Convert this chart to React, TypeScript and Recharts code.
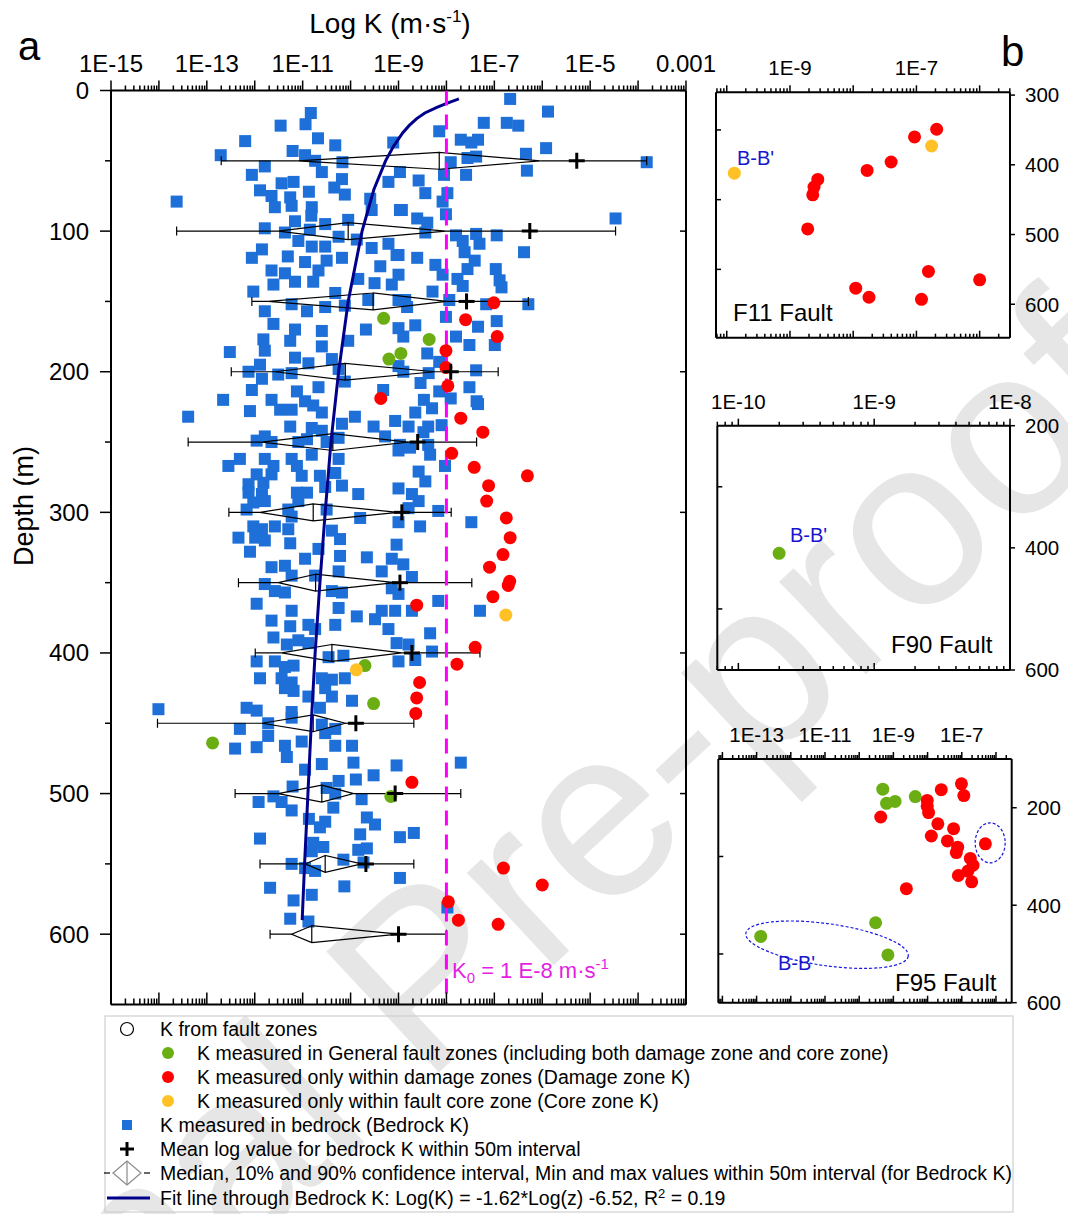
import React from 'react';
import { ScatterChart, Scatter, XAxis, YAxis } from 'recharts';

const FONT = 'Arial, "Liberation Sans", Helvetica, sans-serif';

// ---------------- DATA ----------------
// Bedrock K: [depth (m), log10 K (m/s)]
const bedrockK: [number, number][] = [
  [16,-10.83],[24,-10.94],[25,-11.46],[36,-12.20],[39,-10.32],[37,-9.11],[34,-10.68],[43,-11.21],[46,-12.71],[46,-10.95],
  [50,-10.74],[51,-10.17],[54,-11.79],[60,-12.06],[58,-10.60],[66,-11.44],[65,-11.19],[63,-10.18],[65,-9.21],[71,-11.89],
  [69,-10.34],[79,-13.63],[75,-11.65],[76,-11.26],[72,-10.87],[74,-10.12],[77,-9.59],[83,-11.58],[82,-11.23],[83,-10.81],
  [85,-8.97],[85,-9.56],[89,-10.82],[93,-11.16],[98,-11.79],[95,-10.53],[92,-10.05],[101,-11.37],[99,-10.85],[104,-10.25],
  [106,-9.87],[113,-11.85],[107,-11.09],[111,-10.81],[111,-10.53],[112,-9.56],[109,-9.21],[119,-12.06],[118,-11.31],[122,-10.95],
  [121,-10.50],[119,-10.18],[125,-9.38],[117,-9.00],[128,-11.65],[130,-11.37],[128,-10.67],[134,-9.84],[131,-9.00],[143,-12.03],
  [138,-11.61],[136,-11.16],[136,-10.78],[144,-10.32],[137,-9.50],[138,-9.14],[157,-11.79],[152,-11.23],[157,-10.91],[154,-10.53],
  [153,-10.12],[149,-9.63],[149,-9.00],[166,-11.61],[170,-11.16],[171,-10.60],[170,-9.68],[169,-9.00],[177,-11.82],[178,-11.26],
  [178,-10.05],[186,-12.52],[185,-11.79],[182,-10.60],[190,-11.16],[194,-10.88],[191,-10.39],[195,-11.89],[200,-12.13],[202,-11.51],
  [201,-11.23],[198,-10.25],[196,-9.00],[205,-11.85],[207,-10.12],[213,-12.06],[220,-12.66],[220,-11.65],[214,-11.12],[211,-10.67],
  [213,-9.32],
  [6,-6.67],[15,-5.88],[23,-7.22],[23,-6.74],[25,-6.50],[29,-8.15],[35,-7.70],[35,-7.34],[37,-7.48],[41,-5.92],
  [45,-6.34],[47,-7.38],[48,-7.56],[51,-7.91],[51,-3.82],[57,-6.32],[60,-7.59],[60,-8.05],[58,-8.97],[64,-8.58],
  [73,-8.44],[73,-7.98],[79,-8.08],[85,-8.93],[88,-8.01],[91,-4.47],[91,-8.61],[94,-8.40],[101,-8.44],[103,-7.80],
  [102,-7.38],[103,-6.95],[107,-7.66],[109,-7.31],[115,-6.38],[115,-7.62],[117,-9.04],[119,-8.61],[124,-8.23],[121,-7.41],
  [127,-7.56],[127,-6.97],[131,-8.08],[134,-7.77],[135,-6.89],[139,-7.66],[140,-6.85],[143,-8.29],[149,-8.86],[149,-7.94],
  [152,-7.17],[152,-6.29],[154,-8.82],[161,-8.01],[168,-7.34],[164,-6.95],[167,-8.65],[175,-8.90],[175,-7.80],[181,-7.52],
  [181,-6.99],[187,-8.40],[193,-8.15],[200,-8.90],[201,-8.37],[199,-7.38],[208,-8.54],[211,-7.52],[214,-8.15],[219,-7.91],
  [220,-8.47],[223,-7.34],
  [221,-7.37],[229,-8.65],[226,-8.30],[239,-8.79],[239,-8.38],[238,-8.10],[243,-8.48],[252,-8.97],[254,-8.76],[252,-8.38],
  [259,-8.34],[267,-8.03],[271,-8.58],[278,-8.44],[283,-9.00],[287,-8.72],[292,-8.58],[297,-8.79],[299,-8.17],[307,-9.00],
  [310,-8.55],[307,-7.48],[323,-9.04],[337,-8.90],[346,-8.72],[358,-9.00],[363,-8.17],[370,-8.72],[370,-7.30],[386,-8.34],
  [394,-8.79],[399,-8.30],[405,-8.65],
  [232,-13.39],[228,-12.10],[227,-11.47],[227,-11.23],[221,-10.95],[224,-10.78],[229,-10.60],[239,-11.26],[240,-10.81],[242,-10.60],
  [237,-10.18],[232,-9.91],[239,-9.52],[246,-9.28],[235,-9.07],[249,-11.96],[246,-11.79],[250,-11.65],[250,-11.09],[248,-10.91],
  [250,-10.50],[247,-10.25],[256,-9.00],[262,-12.31],[267,-12.55],[262,-11.79],[267,-11.61],[262,-11.23],[267,-11.12],[259,-10.81],
  [262,-10.25],[273,-11.96],[273,-11.65],[274,-11.02],[274,-10.64],[272,-10.32],[280,-12.13],[279,-11.82],[282,-10.53],[281,-10.18],
  [287,-9.84],[286,-12.13],[287,-11.85],[286,-11.12],[286,-10.91],[293,-12.03],[292,-11.79],[292,-11.09],[298,-12.17],[298,-11.30],
  [303,-11.23],[298,-10.50],[304,-9.80],[310,-12.03],[312,-11.85],[310,-11.58],[312,-11.30],[318,-12.34],[318,-11.99],[320,-11.79],
  [322,-11.26],[313,-10.39],[319,-10.22],[328,-12.10],[326,-10.67],[333,-10.95],[331,-10.22],[332,-9.66],[339,-11.65],[338,-11.37],
  [345,-11.23],[345,-10.74],[342,-10.25],[342,-9.35],[333,-9.14],[351,-11.79],[356,-11.58],[357,-11.37],[356,-10.39],[357,-10.18],
  [354,-9.14],[365,-11.96],[370,-11.23],[368,-10.25],[377,-11.65],[381,-11.26],[380,-10.88],[383,-10.74],[380,-10.32],[374,-9.87],
  [376,-9.49],[370,-9.35],[370,-9.07],[383,-9.21],[389,-11.61],[394,-11.33],[391,-11.09],[393,-10.88],[393,-9.04],[406,-11.96],
  [406,-11.58],[410,-11.37],[409,-11.19],[403,-10.46],[402,-10.15],[406,-9.00],[418,-11.89],[418,-11.44],[421,-11.23],[418,-10.60],
  [419,-10.39],[418,-10.12],[425,-11.37],[427,-11.19],[431,-10.88],[425,-10.53],[431,-10.39],[434,-9.97],[440,-14.01],[439,-12.17],
  [441,-11.96],[442,-11.23],[439,-10.64],
  [450,-11.72],[459,-11.72],[446,-11.23],[451,-10.60],[457,-10.53],[454,-10.32],[454,-12.31],[468,-12.41],[467,-11.96],[466,-11.37],
  [474,-11.33],[463,-11.02],[466,-10.32],[466,-9.97],[479,-10.60],[483,-10.95],[478,-9.94],[480,-9.04],[487,-9.52],[490,-9.89],
  [491,-10.25],[496,-10.50],[500,-10.32],[495,-11.21],[502,-11.61],[506,-11.44],[506,-11.92],[504,-9.77],[512,-11.23],[510,-10.36],
  [518,-10.87],[520,-10.53],[524,-10.64],[517,-9.66],[522,-9.49],[532,-11.89],[529,-9.80],[531,-8.97],[528,-8.68],[535,-10.78],
  [538,-10.57],[541,-10.81],[540,-9.84],[539,-9.66],[550,-11.23],[553,-10.95],[555,-10.74],[547,-10.15],[549,-9.73],[560,-8.97],
  [567,-11.68],[566,-10.13],[572,-10.81],[576,-11.19],[589,-11.26],[591,-10.88],[478,-7.70],[581,-7.98],
];

// Fit line through bedrock K: [depth, log10 K]
const fitLineK: [number, number][] = [
  [6,-7.74],[9,-7.98],[12,-8.2],[16,-8.45],[20,-8.62],[25,-8.78],[30,-8.91],[40,-9.11],[50,-9.27],[70,-9.51],
  [100,-9.76],[150,-10.05],[200,-10.25],[250,-10.41],[300,-10.53],[350,-10.64],[400,-10.74],[450,-10.82],[500,-10.89],[550,-10.96],[590,-11.01],
];

// 50 m interval statistics for bedrock log K
const intervalDepth = [50, 100, 150, 200, 250, 300, 350, 400, 450, 500, 550, 600];
const intervalMin = [-12.70, -13.63, -12.06, -12.49, -13.39, -12.54, -12.34, -11.99, -14.03, -12.41, -11.89, -11.68];
const intervalP10 = [-11.10, -11.51, -11.72, -11.58, -11.85, -11.89, -11.51, -11.44, -11.85, -11.51, -10.95, -11.23];
const intervalMedian = [-8.15, -10.05, -9.53, -10.11, -10.37, -10.78, -10.73, -10.39, -10.78, -10.60, -10.53, -10.81];
const intervalP90 = [-6.04, -8.01, -8.00, -8.24, -8.80, -9.01, -9.07, -8.93, -10.11, -9.94, -9.77, -9.00];
const intervalMax = [-3.82, -4.47, -6.29, -6.92, -7.37, -7.90, -7.47, -7.30, -8.68, -7.70, -8.68, -8.00];
const intervalMean = [-5.28, -6.26, -7.58, -7.91, -8.60, -8.93, -8.97, -8.72, -9.89, -9.07, -9.68, -9.00];

// Fault zone K: [depth, log10 K]
const f11DamageK: [number, number][] = [
  [349,-6.68],[360,-7.03],[396,-7.40],[408,-7.78],[421,-8.56],[432,-8.62],[443,-8.64],[492,-8.72],[553,-6.81],[565,-6.00],[577,-7.96],[590,-7.75],[593,-6.92],
];
const f11CoreK: [number, number][] = [[373,-6.76],[412,-9.88]];
const f90GeneralK: [number, number][] = [[409,-9.70]];
const f95GeneralK: [number, number][] = [[162,-9.31],[177,-8.36],[187,-8.95],[191,-9.20],[436,-9.52],[464,-12.88],[502,-9.16]];
const f95DamageK: [number, number][] = [
  [151,-7.01],[163,-7.60],[175,-6.94],[185,-8.01],[197,-8.01],[210,-7.97],[219,-9.37],[233,-7.70],[243,-7.24],[258,-7.89],
  [268,-7.42],[274,-6.31],[281,-7.12],[292,-7.16],[304,-6.75],[318,-6.67],[330,-6.82],[339,-7.10],[352,-6.71],[366,-8.62],
];
// F95 encircled groups: centre [depth, log10 K]
const f95CircledSingle: [number, number][] = [[272,-6.17]];
const f95CircledBB: [number, number][] = [[481,-10.94]];

const k0Log = -8;

// axis settings
const mainXDomain: [number, number] = [-15, -3];
const mainXLabels = [-15, -13, -11, -9, -7, -5, -3];
const mainDepthDomain: [number, number] = [0, 650];
const mainDepthLabels = [0, 100, 200, 300, 400, 500, 600];
const mainDepthTicks = [0, 50, 100, 150, 200, 250, 300, 350, 400, 450, 500, 550, 600];

// ---------------- STYLE ----------------
const BLUE = '#1E70D8';
const RED = '#FF0000';
const GREEN = '#6BAE14';
const YELLOW = '#FFC125';
const NAVY = '#00008B';
const MAGENTA = '#FF00FF';

const toPts = (arr: [number, number][]) => arr.map(([d, k]) => ({ x: k, y: d }));

const logTicks = (lo: number, hi: number) => {
  const out: number[] = [];
  for (let e = Math.floor(lo); e <= Math.ceil(hi); e++) {
    for (let k = 1; k <= 9; k++) {
      const v = e + Math.log10(k);
      if (v >= lo - 1e-9 && v <= hi + 1e-9) out.push(v);
    }
  }
  return out;
};
const isMajor = (v: number) => Math.abs(v - Math.round(v)) < 1e-6;
const fmtLog = (v: number) => (Math.round(v) === -3 ? '0.001' : `1E${Math.round(v)}`);

const noShape = () => <g />;
const squareShape = (p: any) => <rect x={p.cx - 6} y={p.cy - 6} width={12} height={12} fill={BLUE} />;
const dotShape = (color: string, r: number) => (p: any) => <circle cx={p.cx} cy={p.cy} r={r} fill={color} />;
const crossShape = (p: any) => (
  <g stroke="#000" strokeWidth={3}>
    <line x1={p.cx - 8} x2={p.cx + 8} y1={p.cy} y2={p.cy} />
    <line x1={p.cx} x2={p.cx} y1={p.cy - 8} y2={p.cy + 8} />
  </g>
);
const ellipseShape = (rx: number, ry: number, rot: number) => (p: any) => (
  <ellipse cx={p.cx} cy={p.cy} rx={rx} ry={ry} fill="none" stroke="#1515E0" strokeWidth={1.2} strokeDasharray="3 2"
    transform={`rotate(${rot} ${p.cx} ${p.cy})`} />
);

// tick factories
const topTick = (majorLen: number, minorLen: number, labels: number[], fs: number, gap: number) => (p: any) => {
  const v = p.payload.value;
  const major = isMajor(v);
  const showLabel = major && labels.some((l) => Math.abs(l - v) < 1e-6);
  return (
    <g>
      <line x1={p.x} x2={p.x} y1={p.y} y2={p.y - (major ? majorLen : minorLen)} stroke="#000" strokeWidth={1.5} />
      {showLabel && (
        <text x={p.x} y={p.y - gap} textAnchor="middle" fontSize={fs} fontFamily={FONT} fill="#000">{fmtLog(v)}</text>
      )}
    </g>
  );
};
const bottomTick = (majorLen: number, minorLen: number) => (p: any) => {
  const major = isMajor(p.payload.value);
  return <line x1={p.x} x2={p.x} y1={p.y} y2={p.y - (major ? majorLen : minorLen)} stroke="#000" strokeWidth={1.5} />;
};
const leftTick = (labels: number[], majorLen: number, minorLen: number, inward: boolean, fs: number) => (p: any) => {
  const v = p.payload.value;
  const lab = labels.includes(v);
  const len = lab ? majorLen : minorLen;
  return (
    <g>
      <line x1={p.x} x2={inward ? p.x + len : p.x - len} y1={p.y} y2={p.y} stroke="#000" strokeWidth={1.5} />
      {lab && fs > 0 && (
        <text x={p.x - 22} y={p.y + fs * 0.35} textAnchor="end" fontSize={fs} fontFamily={FONT} fill="#000">{v}</text>
      )}
    </g>
  );
};
const rightTick = (labels: number[], len: number, inward: boolean, fs: number) => (p: any) => {
  const v = p.payload.value;
  return (
    <g>
      <line x1={p.x} x2={inward ? p.x - len : p.x + len} y1={p.y} y2={p.y} stroke="#000" strokeWidth={1.5} />
      {fs > 0 && labels.includes(v) && (
        <text x={p.x + 15} y={p.y + fs * 0.36} textAnchor="start" fontSize={fs} fontFamily={FONT} fill="#000">{v}</text>
      )}
    </g>
  );
};

const AX = { stroke: '#000', strokeWidth: 2 };

// ---------------- MAIN PANEL ----------------
function MainPanel() {
  const xt = logTicks(mainXDomain[0], mainXDomain[1]);
  const bedrock = toPts(bedrockK);
  const C = 3.2; // cap half-height (m)
  const H = 6; // diamond half-height (m)
  const boxSeries: React.ReactNode[] = [];
  intervalDepth.forEach((d, i) => {
    const mn = intervalMin[i], p10 = intervalP10[i], md = intervalMedian[i], p90 = intervalP90[i], mx = intervalMax[i];
    const ls = { stroke: '#000', strokeWidth: 1.2 };
    boxSeries.push(
      <Scatter key={`wl${i}`} xAxisId="t" yAxisId="l" isAnimationActive={false} shape={noShape} line={ls} lineType="joint"
        data={[{ x: mn, y: d - C }, { x: mn, y: d + C }, { x: mn, y: d }, { x: p10, y: d }]} />,
      <Scatter key={`wr${i}`} xAxisId="t" yAxisId="l" isAnimationActive={false} shape={noShape} line={ls} lineType="joint"
        data={[{ x: p90, y: d }, { x: mx, y: d }, { x: mx, y: d - C }, { x: mx, y: d + C }]} />,
      <Scatter key={`dm${i}`} xAxisId="t" yAxisId="l" isAnimationActive={false} shape={noShape} line={ls} lineType="joint"
        data={[{ x: md, y: d - H }, { x: p10, y: d }, { x: md, y: d + H }, { x: p90, y: d }, { x: md, y: d - H }, { x: md, y: d + H }]} />
    );
  });
  const means = intervalDepth.map((d, i) => ({ x: intervalMean[i], y: d }));
  const general = toPts([...f95GeneralK, ...f90GeneralK]);
  const damage = toPts([...f95DamageK, ...f11DamageK]);
  const core = toPts(f11CoreK);
  return (
    <ScatterChart width={720} height={1010} margin={{ top: 0, right: 33, bottom: 4.5, left: 0 }}>
      <XAxis xAxisId="t" orientation="top" type="number" dataKey="x" domain={mainXDomain} ticks={xt} interval={0}
        allowDataOverflow height={90.5} tickSize={0} tickMargin={0} tickLine={false} axisLine={AX}
        tick={topTick(10, 5, mainXLabels, 24, 19)} />
      <XAxis xAxisId="b" orientation="bottom" type="number" dataKey="x" domain={mainXDomain} ticks={xt} interval={0}
        allowDataOverflow height={1} tickSize={0} tickMargin={0} tickLine={false} axisLine={AX} tick={bottomTick(12, 6)} />
      <YAxis yAxisId="l" orientation="left" type="number" dataKey="y" reversed domain={mainDepthDomain} ticks={mainDepthTicks}
        interval={0} allowDataOverflow width={111} tickSize={0} tickMargin={0} tickLine={false} axisLine={AX}
        tick={leftTick(mainDepthLabels, 11, 6, false, 24)} />
      <YAxis yAxisId="r" orientation="right" type="number" dataKey="y" reversed domain={mainDepthDomain} ticks={mainDepthLabels}
        interval={0} allowDataOverflow width={1} tickSize={0} tickMargin={0} tickLine={false} axisLine={AX}
        tick={rightTick([], 6, true, 0)} />
      <Scatter xAxisId="b" yAxisId="r" data={bedrock} shape={noShape} isAnimationActive={false} />
      <Scatter xAxisId="t" yAxisId="l" data={bedrock} shape={squareShape} isAnimationActive={false} />
      {boxSeries}
      <Scatter xAxisId="t" yAxisId="l" data={toPts(fitLineK)} shape={noShape} isAnimationActive={false}
        line={{ stroke: NAVY, strokeWidth: 3 }} lineType="joint" />
      <Scatter xAxisId="t" yAxisId="l" data={[{ x: k0Log, y: mainDepthDomain[0] }, { x: k0Log, y: mainDepthDomain[1] }]}
        shape={noShape} isAnimationActive={false} line={{ stroke: MAGENTA, strokeWidth: 3, strokeDasharray: '15 9' }} lineType="joint" />
      <Scatter xAxisId="t" yAxisId="l" data={general} shape={dotShape(GREEN, 6.5)} isAnimationActive={false} />
      <Scatter xAxisId="t" yAxisId="l" data={damage} shape={dotShape(RED, 6.5)} isAnimationActive={false} />
      <Scatter xAxisId="t" yAxisId="l" data={core} shape={dotShape(YELLOW, 6.5)} isAnimationActive={false} />
      <Scatter xAxisId="t" yAxisId="l" data={means} shape={crossShape} isAnimationActive={false} />
    </ScatterChart>
  );
}

// ---------------- FAULT PANELS ----------------
function FaultPanel(props: {
  w: number; h: number; pl: number; pt: number; pr: number; pb: number;
  xDomain: [number, number]; yDomain: [number, number]; xLabels: number[]; rightLabels: number[]; leftTicks: number[];
  children: React.ReactNode;
}) {
  const { w, h, pl, pt, pr, pb, xDomain, yDomain, xLabels, rightLabels, leftTicks } = props;
  const xt = logTicks(xDomain[0], xDomain[1]);
  return (
    <ScatterChart width={w} height={h} margin={{ top: 0, right: 0, bottom: pb - 1, left: 0 }}>
      <XAxis xAxisId="t" orientation="top" type="number" dataKey="x" domain={xDomain} ticks={xt} interval={0}
        allowDataOverflow height={pt} tickSize={0} tickMargin={0} tickLine={false} axisLine={AX}
        tick={topTick(7, 4, xLabels, 20.5, 17)} />
      <XAxis xAxisId="b" orientation="bottom" type="number" dataKey="x" domain={xDomain} ticks={xt} interval={0}
        allowDataOverflow height={1} tickSize={0} tickMargin={0} tickLine={false} axisLine={AX} tick={bottomTick(7, 4)} />
      <YAxis yAxisId="l" orientation="left" type="number" dataKey="y" reversed domain={yDomain} ticks={leftTicks}
        interval={0} allowDataOverflow width={pl} tickSize={0} tickMargin={0} tickLine={false} axisLine={AX}
        tick={leftTick([], 5, 5, true, 0)} />
      <YAxis yAxisId="r" orientation="right" type="number" dataKey="y" reversed domain={yDomain} ticks={rightLabels}
        interval={0} allowDataOverflow width={pr} tickSize={0} tickMargin={0} tickLine={false} axisLine={AX}
        tick={rightTick(rightLabels, 5, false, 20.5)} />
      {props.children}
    </ScatterChart>
  );
}

function Legend() {
  const rows = [1029, 1053, 1077, 1101, 1125, 1149, 1173, 1198];
  const fs = 19.5;
  const T = (x: number, y: number, s: React.ReactNode) => (
    <text x={x} y={y + 7} fontSize={fs} fontFamily={FONT} fill="#000">{s}</text>
  );
  return (
    <g>
      <rect x={105} y={1016} width={908} height={196} fill="none" stroke="#CFCFCF" strokeWidth={1.2} />
      <circle cx={127} cy={rows[0]} r={6.5} fill="none" stroke="#000" strokeWidth={1.2} />
      {T(160, rows[0], 'K from fault zones')}
      <circle cx={168} cy={rows[1]} r={6} fill={GREEN} />
      {T(197, rows[1], 'K measured in General fault zones (including both damage zone and core zone)')}
      <circle cx={168} cy={rows[2]} r={6} fill={RED} />
      {T(197, rows[2], 'K measured only within damage zones (Damage zone K)')}
      <circle cx={168} cy={rows[3]} r={6} fill={YELLOW} />
      {T(197, rows[3], 'K measured only within fault core zone (Core zone K)')}
      <rect x={122} y={rows[4] - 5} width={10} height={10} fill={BLUE} />
      {T(160, rows[4], 'K measured in bedrock (Bedrock K)')}
      <g stroke="#000" strokeWidth={3}>
        <line x1={120} x2={134} y1={rows[5]} y2={rows[5]} />
        <line x1={127} x2={127} y1={rows[5] - 7} y2={rows[5] + 7} />
      </g>
      {T(160, rows[5], 'Mean log value for bedrock K within 50m interval')}
      <g>
        <line x1={104} x2={110} y1={rows[6]} y2={rows[6]} stroke="#000" strokeWidth={1.2} />
        <line x1={144} x2={150} y1={rows[6]} y2={rows[6]} stroke="#000" strokeWidth={1.2} />
        <polygon points={`113,${rows[6]} 127,${rows[6] - 12} 141,${rows[6]} 127,${rows[6] + 12}`} fill="none" stroke="#8A8A8A" strokeWidth={1.2} />
        <line x1={127} x2={127} y1={rows[6] - 12} y2={rows[6] + 12} stroke="#8A8A8A" strokeWidth={1.2} />
      </g>
      {T(160, rows[6], 'Median, 10% and 90% confidence interval, Min and max values within 50m interval (for Bedrock K)')}
      <line x1={107} x2={150} y1={rows[7]} y2={rows[7]} stroke={NAVY} strokeWidth={3} />
      <text x={160} y={rows[7] + 7} fontSize={fs} fontFamily={FONT} fill="#000">
        Fit line through Bedrock K: Log(K) = -1.62*Log(z) -6.52, R<tspan dy={-7} fontSize={13}>2</tspan><tspan dy={7}> = 0.19</tspan>
      </text>
    </g>
  );
}

export default function App() {
  const abs = (l: number, t: number): React.CSSProperties => ({ position: 'absolute', left: l, top: t });
  return (
    <div style={{ position: 'absolute', left: 0, top: 0, width: 1068, height: 1214, background: '#fff', overflow: 'hidden', fontFamily: FONT }}>
      <svg width={1068} height={1214} style={abs(0, 0)}>
        <text x={-200} y={1668} fontSize={240} fill="#E6E6E6" fontFamily={FONT} transform="rotate(-43 -200 1668)">Journal Pre-proofs</text>
      </svg>
      <div style={abs(0, 0)}><MainPanel /></div>
      <div style={abs(700, 40)}>
        <FaultPanel w={368} h={310} pl={16} pt={52.3} pr={58} pb={12.3} xDomain={[-10.17, -5.52]} yDomain={[296, 648]}
          xLabels={[-9, -7]} rightLabels={[300, 400, 500, 600]} leftTicks={[350, 450, 550]}>
          <Scatter xAxisId="t" yAxisId="l" data={toPts(f11DamageK)} shape={dotShape(RED, 6.5)} isAnimationActive={false} />
          <Scatter xAxisId="t" yAxisId="l" data={toPts(f11CoreK)} shape={dotShape(YELLOW, 6.5)} isAnimationActive={false} />
          <Scatter xAxisId="b" yAxisId="r" data={toPts(f11CoreK)} shape={noShape} isAnimationActive={false} />
        </FaultPanel>
      </div>
      <div style={abs(700, 380)}>
        <FaultPanel w={368} h={300} pl={17.3} pt={45.7} pr={58} pb={10} xDomain={[-10.155, -8]} yDomain={[200, 600]}
          xLabels={[-10, -9, -8]} rightLabels={[200, 400, 600]} leftTicks={[300, 500]}>
          <Scatter xAxisId="t" yAxisId="l" data={toPts(f90GeneralK)} shape={dotShape(GREEN, 6.5)} isAnimationActive={false} />
          <Scatter xAxisId="b" yAxisId="r" data={toPts(f90GeneralK)} shape={noShape} isAnimationActive={false} />
        </FaultPanel>
      </div>
      <div style={abs(700, 710)}>
        <FaultPanel w={368} h={310} pl={18.3} pt={49} pr={56.3} pb={17.3} xDomain={[-14.12, -5.54]} yDomain={[100, 600]}
          xLabels={[-13, -11, -9, -7]} rightLabels={[200, 400, 600]} leftTicks={[300, 500]}>
          <Scatter xAxisId="t" yAxisId="l" data={toPts(f95GeneralK)} shape={dotShape(GREEN, 6.5)} isAnimationActive={false} />
          <Scatter xAxisId="t" yAxisId="l" data={toPts(f95DamageK)} shape={dotShape(RED, 6.5)} isAnimationActive={false} />
          <Scatter xAxisId="t" yAxisId="l" data={toPts(f95CircledSingle)} shape={ellipseShape(15, 20, 0)} isAnimationActive={false} />
          <Scatter xAxisId="t" yAxisId="l" data={toPts(f95CircledBB)} shape={ellipseShape(82, 21, 8)} isAnimationActive={false} />
          <Scatter xAxisId="b" yAxisId="r" data={toPts(f95GeneralK)} shape={noShape} isAnimationActive={false} />
        </FaultPanel>
      </div>
      <svg width={1068} height={1214} style={{ ...abs(0, 0), pointerEvents: 'none' }}>
        <text x={18} y={60} fontSize={40} fontFamily={FONT} fill="#000">a</text>
        <text x={1001} y={66} fontSize={42} fontFamily={FONT} fill="#000">b</text>
        <text x={390} y={33} textAnchor="middle" fontSize={28} fontFamily={FONT} fill="#000">
          Log K (m·s<tspan dy={-11} fontSize={17}>-1</tspan><tspan dy={11}>)</tspan>
        </text>
        <text x={33} y={506} textAnchor="middle" fontSize={27} fontFamily={FONT} fill="#000" transform="rotate(-90 33 506)">Depth (m)</text>
        <text x={452} y={978} fontSize={22} fontFamily={FONT} fill="#E21FE2">
          K<tspan dy={5} fontSize={15}>0</tspan><tspan dy={-5}> = 1 E-8 m·s</tspan><tspan dy={-9} fontSize={15}>-1</tspan>
        </text>
        <text x={737} y={165} fontSize={20} fontFamily={FONT} fill="#1515D0">B-B'</text>
        <text x={733} y={321} fontSize={24} fontFamily={FONT} fill="#000">F11 Fault</text>
        <text x={790} y={542} fontSize={20} fontFamily={FONT} fill="#1515D0">B-B'</text>
        <text x={891} y={653} fontSize={24} fontFamily={FONT} fill="#000">F90 Fault</text>
        <text x={778} y={970} fontSize={20} fontFamily={FONT} fill="#1515D0">B-B'</text>
        <text x={895} y={991} fontSize={24} fontFamily={FONT} fill="#000">F95 Fault</text>
        <Legend />
      </svg>
    </div>
  );
}
